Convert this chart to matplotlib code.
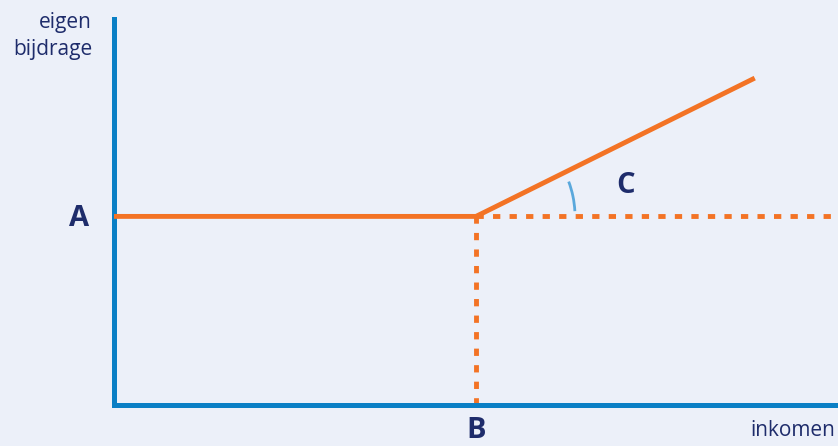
import matplotlib
matplotlib.use("Agg")
import matplotlib.pyplot as plt
from matplotlib.patches import Arc
import numpy as np

# data (arbitrary units)
A = 3.0          # fixed own contribution
B = 5.0          # income threshold
inkomen = [0, B, 8.85]
bijdrage = [A, A, 5.2]
x_max, y_max = 10.0, 6.14

bg = "#ECF0F9"
blue = "#0A7FC5"
orange = "#F37325"
navy = "#1E2C6B"
arc_col = "#5AA8DC"

plt.rcParams['font.family'] = ['Open Sans', 'DejaVu Sans']

fig = plt.figure(figsize=(8.38, 4.46), dpi=100, facecolor=bg)
ax = fig.add_axes([114/838, 41/446, 724/838, 386/446])
ax.set_facecolor(bg)
ax.set_xlim(0, x_max)
ax.set_ylim(0, y_max)
ax.set_xticks([])
ax.set_yticks([])
for s in ['top', 'right']:
    ax.spines[s].set_visible(False)
for s in ['left', 'bottom']:
    ax.spines[s].set_color(blue)
    ax.spines[s].set_linewidth(3.6)
    ax.spines[s].set_capstyle('projecting')

# dotted guides
dash = dict(color=orange, lw=3.5, dashes=(1.5, 1.9), dash_capstyle='butt', clip_on=False)
ax.plot([B, x_max], [A, A], **dash)
ax.plot([B, B], [0, A], **dash)

# contribution line
ax.plot(inkomen, bijdrage, color=orange, lw=3.5, solid_capstyle='butt',
        solid_joinstyle='miter', zorder=3)

# angle arc (circle in display space)
fig.canvas.draw()
px = ax.transData.transform([(inkomen[1], bijdrage[1]), (inkomen[2], bijdrage[2])])
ang = np.degrees(np.arctan2(px[1, 1] - px[0, 1], px[1, 0] - px[0, 0]))
sx = ax.transData.transform((1, 0))[0] - ax.transData.transform((0, 0))[0]
sy = ax.transData.transform((0, 1))[1] - ax.transData.transform((0, 0))[1]
r = 99
ax.add_patch(Arc((B, A), 2*r/sx, 2*r/sy, theta1=3.5, theta2=ang - 3,
                 color=arc_col, lw=2.0, zorder=4))

# labels
ax.annotate("A", xy=(0, A), xytext=(-35, -2), textcoords='offset pixels',
            ha='center', va='center', fontsize=21, fontweight='bold', color=navy,
            annotation_clip=False)
ax.annotate("B", xy=(B, 0), xytext=(0, -26), textcoords='offset pixels',
            ha='center', va='center', fontsize=21, fontweight='bold', color=navy,
            annotation_clip=False)
ax.annotate("C", xy=(B, A), xytext=(150, 31), textcoords='offset pixels',
            ha='center', va='center', fontsize=21, fontweight='bold', color=navy)
fig.text(92/838, 1 - 36/446, "eigen\nbijdrage", ha='right', va='center',
         fontsize=15, color=navy, linespacing=1.4)
fig.text(835/838, 1 - 430/446, "inkomen", ha='right', va='center',
         fontsize=15, color=navy)

fig.savefig("out.png", dpi=100, facecolor=bg)
